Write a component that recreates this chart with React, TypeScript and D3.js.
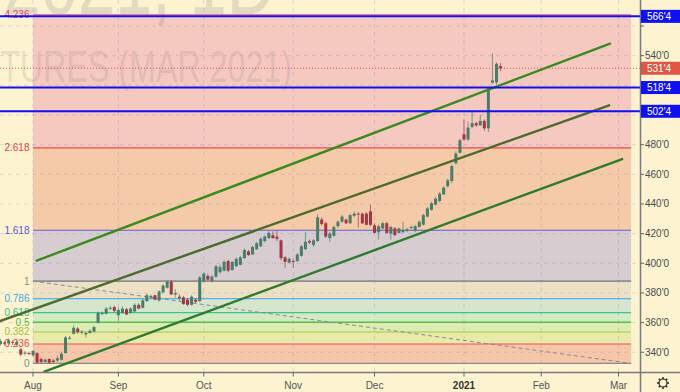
import React from 'react';
import * as d3 from 'd3';

const W = 680;
const H = 392;

// daily bars, ZCH2021. bar index 0 = Aug 3 2020, first bar is index -8 (late July)
const firstBar = -8;
const opens = [
  345.5, 346.5, 346, 347, 345, 342, 339.5, 339.5,
  338, 339.5, 335.5, 333.5, 335.5, 334.5, 334.5, 335, 339.5, 349.5, 352.5, 356, 353.5, 352, 353, 354, 360, 366, 366, 369.5, 370.5,
  365, 366.5, 369, 366.5, 367.5, 372, 370, 374.5, 377, 378.5, 375, 380.5, 383.5, 387.5, 379, 377.5, 377, 375.5, 372, 375.5, 374.5,
  388, 391.5, 388, 391, 394, 395, 401.5, 395.5, 398, 399, 403.5, 408, 406, 409.5, 411.5, 415, 417, 419, 418, 415.5, 404, 400.5,
  401.5, 401.5, 405, 409.5, 415, 412.5, 415, 429.5, 427, 417, 418.5, 425, 428, 429.5, 427, 432, 433.5, 433.5, 433.5, 435,
  425.5, 421, 423.5, 427, 420, 423.5, 420.5, 421, 422, 424, 422, 424.5, 426, 431.5, 436, 439.5, 442, 446.5, 452, 455.5, 467.5, 474.5,
  487, 483.5, 492, 494.5, 493, 496, 491, 521.8, 522, 533,
];
const highs = [
  349, 347.5, 349.5, 348, 348, 343, 341, 340.5,
  341.5, 340, 336.5, 336, 336, 335.5, 338, 340.5, 351, 351, 358, 357, 355, 354, 355.5, 358, 367.5, 367.5, 370.5, 371.5, 371.5,
  370, 371, 370, 370.5, 373, 373, 376, 379.5, 379, 379, 382, 386, 388.5, 388.5, 382.5, 379, 378, 376.5, 378.5, 376.5, 391.5,
  394, 393, 392, 399, 399, 402, 402.5, 401.5, 404, 405, 410, 409, 412, 414.5, 417.5, 419, 421.5, 421.5, 422, 416, 405, 404,
  403, 407, 412.5, 421, 416, 416.5, 433, 431, 428, 421, 425.5, 429, 432.5, 430, 433.5, 435, 434.5, 434, 434.5, 439.5,
  427, 426, 428, 428, 425.5, 424.5, 424, 428, 424, 425.5, 426, 429, 433.5, 438, 441.5, 445, 448, 452, 457, 466.5, 475.5, 484,
  497, 495.5, 502, 495.5, 500, 497, 518.5, 541.5, 535.5, 535,
];
const lows = [
  344.5, 344.5, 345, 345, 344, 337.5, 338, 338,
  337, 332.5, 332.5, 333, 332.5, 332.5, 333.5, 334.5, 339, 348.5, 352, 352.5, 352, 350, 352.5, 353.5, 359.5, 365, 365.5, 368.5, 367,
  361.5, 366, 365, 366, 367, 369, 369.5, 374, 376, 375, 374, 379.5, 383, 378.5, 377, 375, 372, 371, 371.5, 373, 374,
  387, 388.5, 387, 390.5, 393, 394.5, 394, 395, 397.5, 398.5, 403, 405, 405.5, 409, 411, 414, 416.5, 416.5, 415, 402, 397, 400,
  397, 401, 404.5, 409, 413, 411, 414.5, 425.5, 417, 414.5, 418, 424, 427.5, 426.5, 426.5, 431, 424, 426.5, 425.5, 425,
  420, 416, 423, 420, 416, 418.5, 420, 420.5, 421, 423, 421, 424, 425.5, 431, 435.5, 439, 441, 446, 451, 454, 466.5, 474,
  482.5, 482.5, 491, 492, 492.5, 489.5, 488.5, 521, 520.5, 529.5,
];
const closes = [
  347.5, 346, 348, 346.5, 347, 338.5, 339.8, 339,
  341, 333, 333.5, 335, 333, 333.5, 336, 339, 350, 349.8, 356.5, 353.5, 354, 353, 354.5, 357, 366.5, 366.5, 369.5, 370, 368,
  368.5, 369.5, 365.5, 369.5, 372, 369.5, 375, 378.5, 378, 375.5, 381, 385, 387.5, 379, 380, 376.5, 372.5, 372, 377.5, 374, 390.5,
  393, 389, 391, 398, 397.5, 401, 395, 401, 403, 404, 409, 405.5, 411, 413.5, 416.5, 418, 420.5, 417, 416.5, 403.5, 401, 403,
  401, 406, 411.5, 414.5, 414, 415.5, 431, 426.5, 418, 420, 424.5, 428, 431.5, 427, 432.5, 433.5, 433, 427, 426, 426,
  420.5, 425, 427, 420.5, 424.5, 419, 423.5, 422.5, 423, 424.5, 425, 428, 432.5, 437, 440.5, 443.5, 447, 451, 456, 465.5, 474, 483,
  483.5, 491.5, 494.5, 493, 496, 491, 518, 523.3, 534.5, 531.5,
];

const monthLabels = ['Aug', 'Sep', 'Oct', 'Nov', 'Dec', '2021', 'Feb', 'Mar'];
const monthBars = [0, 21, 42, 64, 84, 106, 125, 144];

const priceTicks = [340, 360, 380, 400, 420, 440, 460, 480, 500, 520, 540, 560];

// fibonacci retracement drawn from Aug 3 (level 1) to level 0
const fibLevels = [0, 0.236, 0.382, 0.5, 0.618, 0.786, 1, 1.618, 2.618, 4.236];
const fibLineColors = ['#8a8a8a', '#f05050', '#a8c83a', '#56c046', '#3cc48e', '#5ab0e6', '#8e8e92', '#5c5cd0', '#f04848', '#e8508a'];
const fibLabelColors = ['#8a8a8a', '#e84848', '#a0c030', '#4cc040', '#30c090', '#4aa8e0', '#8a8a8a', '#5a5ad0', '#e84040', '#e04080'];
const fibFillColors = ['', '#f5c6a8', '#e9e9aa', '#dcecb4', '#d3eac2', '#d6e6cc', '#ece1c4', '#d7cdd0', '#f5caa8', '#f5c8c0'];
const fibPrice0 = 332.5;
const fibPrice1 = 388;
const fibBars = [0, 147.1];

// channel lines: [bar, price, bar, price]
const channels = [
  [0.91, 401.8, 141.9, 548.1],
  [-8.12, 361.1, 141.7, 506.5],
  [2.78, 326.9, 144.9, 470.3],
];
const channelColors = ['#3a8a20', '#4d6b2d', '#2f7a2f'];

const levelPrices = [566.5, 518.5, 502.5];
const lastPrice = 531.5;

const fmt = (v: number) => `${Math.floor(v)}'${Math.round((v - Math.floor(v)) * 8)}`;

const x = d3.scaleLinear().domain([0, 144]).range([33, 618.5]);
const y = d3.scaleLinear().domain([340, 560]).range([352.3, 26]);

const plotR = 640.5;
const plotB = 372.5;
const font = '"Liberation Sans", Arial, sans-serif';

const Gear = ({ cx, cy }: { cx: number; cy: number }) => {
  const teeth = d3.range(8).map((k) => {
    const a = (k * Math.PI) / 4;
    return (
      <line key={k} x1={cx + Math.cos(a) * 3.8} y1={cy + Math.sin(a) * 3.8}
        x2={cx + Math.cos(a) * 6} y2={cy + Math.sin(a) * 6} stroke="#333" strokeWidth={1.6} />
    );
  });
  return (
    <g>
      <circle cx={cx} cy={cy} r={4} fill="none" stroke="#333" strokeWidth={1.2} />
      {teeth}
    </g>
  );
};

export default function App() {
  const fp = (lv: number) => fibPrice0 + lv * (fibPrice1 - fibPrice0);
  const fx0 = x(fibBars[0]);
  const fx1 = x(fibBars[1]);
  const bars = opens.map((o, j) => ({ i: firstBar + j, o, h: highs[j], l: lows[j], c: closes[j] }));
  const boxed = [...levelPrices, lastPrice];
  const visibleTicks = priceTicks.filter((p) => boxed.every((b) => Math.abs(y(p) - y(b)) > 10));

  return (
    <svg width={W} height={H} style={{ position: 'absolute', left: 0, top: 0, background: '#fdf3d0' }} fontFamily={font}>
      <defs>
        <clipPath id="plot">
          <rect x={0} y={0} width={plotR} height={plotB} />
        </clipPath>
      </defs>
      <rect x={0} y={0} width={W} height={H} fill="#fdf3d0" />
      <g clipPath="url(#plot)">
        {fibLevels.slice(1).map((lv, k) => (
          <rect key={lv} x={fx0} width={fx1 - fx0} y={y(fp(lv))}
            height={y(fp(fibLevels[k])) - y(fp(lv))} fill={fibFillColors[k + 1]} />
        ))}
        {/* watermark */}
        <text x={275 - 409} y={13.5} fontSize={90} textLength={409} lengthAdjust="spacingAndGlyphs"
          fill="rgba(120,120,120,0.2)">ZCH2021, 1D</text>
        <text x={292 - 438.6} y={81.5} fontSize={44} textLength={438.6} lengthAdjust="spacingAndGlyphs"
          fill="rgba(120,120,120,0.18)">CORN FUTURES (MAR 2021)</text>
        {/* grid */}
        {priceTicks.map((p) => (
          <line key={p} x1={0} x2={plotR} y1={y(p)} y2={y(p)} stroke="rgba(150,140,200,0.3)" strokeDasharray="4 4" />
        ))}
        {monthBars.map((b) => (
          <line key={b} x1={x(b)} x2={x(b)} y1={0} y2={plotB} stroke="rgba(150,140,200,0.3)" strokeDasharray="4 4" />
        ))}
        {fibLevels.map((lv, k) => (
          <line key={lv} x1={fx0} x2={fx1} y1={y(fp(lv))} y2={y(fp(lv))} stroke={fibLineColors[k]}
            strokeWidth={lv === 1 || lv === 0.5 ? 1.6 : 1.2} />
        ))}
        {fibLevels.map((lv, k) => (
          <text key={lv} x={29.5} y={y(fp(lv))} dy="0.35em" textAnchor="end" fontSize={10} fill={fibLabelColors[k]}>
            {String(lv)}
          </text>
        ))}
        <line x1={fx0} y1={y(fp(1))} x2={fx1} y2={y(fp(0))} stroke="#8a8a8a" strokeWidth={1} strokeDasharray="4 3" />
        {/* candles */}
        {bars.map((d) => {
          const up = d.c >= d.o;
          const col = up ? '#4a7d68' : '#a23646';
          const top = y(Math.max(d.o, d.c));
          const hgt = Math.max(1, Math.abs(y(d.o) - y(d.c)));
          return (
            <g key={d.i}>
              <line x1={x(d.i)} x2={x(d.i)} y1={y(d.h)} y2={y(d.l)} stroke={col} strokeOpacity={0.7} />
              <rect x={x(d.i) - 1.5} width={3} y={top} height={hgt} fill={col} />
            </g>
          );
        })}
        {channels.map((c, k) => (
          <line key={k} x1={x(c[0])} y1={y(c[1])} x2={x(c[2])} y2={y(c[3])} stroke={channelColors[k]}
            strokeWidth={2.4} strokeLinecap="round" />
        ))}
        {levelPrices.map((p) => (
          <line key={p} x1={0} x2={plotR} y1={y(p)} y2={y(p)} stroke="#1010f0" strokeWidth={2} />
        ))}
        <line x1={0} x2={plotR} y1={y(lastPrice)} y2={y(lastPrice)} stroke="#e05050" strokeWidth={1} strokeDasharray="1 2" />
      </g>
      {/* axes */}
      <line x1={plotR} x2={plotR} y1={0} y2={H} stroke="#7a7a7a" strokeWidth={1.5} />
      <line x1={0} x2={W} y1={plotB} y2={plotB} stroke="#7a7a7a" strokeWidth={1.5} />
      {priceTicks.map((p) => (
        <line key={p} x1={plotR} x2={plotR + 3.5} y1={y(p)} y2={y(p)} stroke="#666" />
      ))}
      {visibleTicks.map((p) => (
        <text key={p} x={645} y={y(p)} dy="0.35em" fontSize={10} fill="#4a4a4a">{fmt(p)}</text>
      ))}
      {monthBars.map((b, k) => (
        <g key={b}>
          <line x1={x(b)} x2={x(b)} y1={plotB} y2={plotB + 4} stroke="#666" />
          <text x={x(b)} y={385} dy="0.35em" textAnchor="middle" fontSize={10}
            fontWeight={monthLabels[k] === '2021' ? 'bold' : 'normal'} fill={monthLabels[k] === '2021' ? '#333' : '#555'}>
            {monthLabels[k]}
          </text>
        </g>
      ))}
      {levelPrices.map((p) => (
        <g key={p}>
          <rect x={plotR + 0.5} y={y(p) - 6.5} width={W - plotR} height={13} fill="#1010f0" />
          <text x={647} y={y(p)} dy="0.36em" fontSize={10} fill="#fff">{fmt(p)}</text>
        </g>
      ))}
      <rect x={plotR + 0.5} y={y(lastPrice) - 6.5} width={W - plotR} height={13} fill="#df5744" />
      <text x={647} y={y(lastPrice)} dy="0.36em" fontSize={10} fill="#fff">{fmt(lastPrice)}</text>
      <Gear cx={663} cy={383} />
    </svg>
  );
}
